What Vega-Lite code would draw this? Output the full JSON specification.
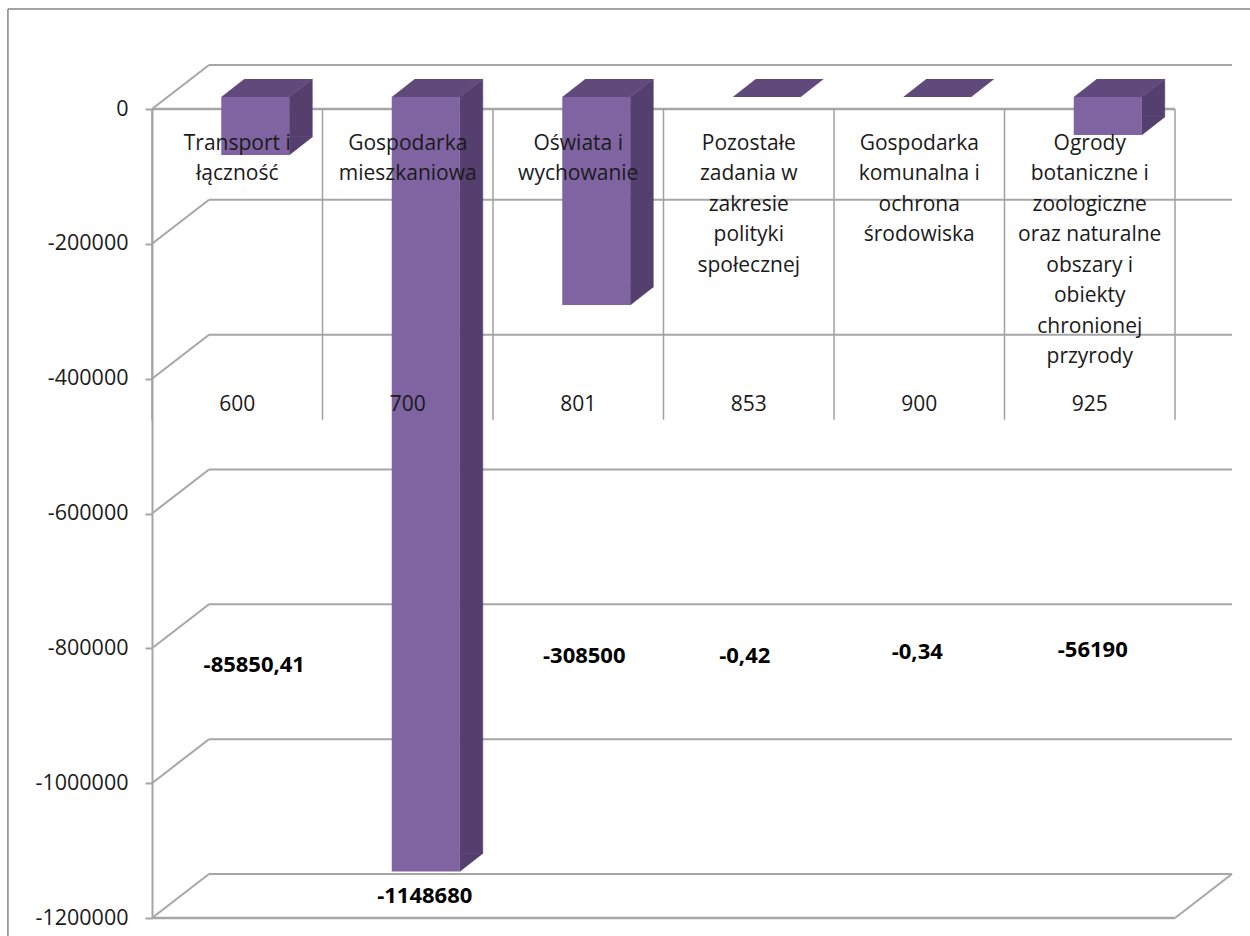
{"$schema":"https://vega.github.io/schema/vega-lite/v6.json","width":1250,"height":936,"padding":0,"autosize":{"type":"none"},"background":"white","view":{"stroke":null},
"config":{"text":{"font":"Open Sans","fontSize":21,"color":"#1a1a1a"}},
"datasets":{
"cats":[
{"code":"600","name":"Transport i\nłączność","value":-85850.41,"label":"-85850,41"},
{"code":"700","name":"Gospodarka\nmieszkaniowa","value":-1148680,"label":"-1148680"},
{"code":"801","name":"Oświata i\nwychowanie","value":-308500,"label":"-308500"},
{"code":"853","name":"Pozostałe\nzadania w\nzakresie\npolityki\nspołecznej","value":-0.42,"label":"-0,42"},
{"code":"900","name":"Gospodarka\nkomunalna i\nochrona\nśrodowiska","value":-0.34,"label":"-0,34"},
{"code":"925","name":"Ogrody\nbotaniczne i\nzoologiczne\noraz naturalne\nobszary i\nobiekty\nchronionej\nprzyrody","value":-56190,"label":"-56190"}],
"ticks":[{"tick":0},{"tick":-200000},{"tick":-400000},{"tick":-600000},{"tick":-800000},{"tick":-1000000},{"tick":-1200000}],
"edges":[{"edge":0},{"edge":1},{"edge":2},{"edge":3},{"edge":4},{"edge":5},{"edge":6}],
"front":[{"tick":0},{"tick":-1200000}]
},
"resolve":{"scale":{"x":"independent"},"axis":{"y":"independent"}},
"layer":[
{"data":{"name":"ticks"},"mark":{"type":"rule","color":"#a6a6a6","strokeWidth":2,"xOffset":57,"x2Offset":57,"yOffset":-44},
"encoding":{"x":{"datum":0,"type":"quantitative","axis":null,"scale":{"domain":[0,6],"range":[152,1175]}},"x2":{"datum":6},
"y":{"field":"tick","type":"quantitative","scale":{"domain":[-1200000,0],"range":[918,109]},
"axis":{"orient":"left","offset":-152,"values":[0,-200000,-400000,-600000,-800000,-1000000,-1200000],"format":"d","labelExpr":"replace(datum.label,'−','-')","title":null,"grid":false,"domainColor":"#a6a6a6","domainWidth":2,"tickColor":"#a6a6a6","tickWidth":2,"tickSize":7,"labelPadding":17,"labelFont":"Open Sans","labelFontSize":21.5,"labelColor":"#1a1a1a"}}}},
{"data":{"name":"ticks"},"mark":{"type":"rule","color":"#a6a6a6","strokeWidth":2,"x2Offset":57,"y2Offset":-44},
"encoding":{"x":{"datum":0,"type":"quantitative","axis":null,"scale":{"domain":[0,6],"range":[152,1175]}},"x2":{"datum":0},
"y":{"field":"tick","type":"quantitative","axis":null,"scale":{"domain":[-1200000,0],"range":[918,109]}},"y2":{"field":"tick"}}},
{"data":{"values":[{"tick":-1200000}]},"mark":{"type":"rule","color":"#a6a6a6","strokeWidth":2,"x2Offset":57,"y2Offset":-44},
"encoding":{"x":{"datum":6,"type":"quantitative","axis":null,"scale":{"domain":[0,6],"range":[152,1175]}},"x2":{"datum":6},
"y":{"field":"tick","type":"quantitative","axis":null,"scale":{"domain":[-1200000,0],"range":[918,109]}},"y2":{"field":"tick"}}},
{"data":{"name":"front"},"mark":{"type":"rule","color":"#a6a6a6","strokeWidth":2.5},
"encoding":{"x":{"datum":0,"type":"quantitative","axis":null,"scale":{"domain":[0,6],"range":[152,1175]}},"x2":{"datum":6},
"y":{"field":"tick","type":"quantitative","axis":null,"scale":{"domain":[-1200000,0],"range":[918,109]}}}},
{"data":{"name":"edges"},"mark":{"type":"rule","color":"#a0a0a0","strokeWidth":1.5},
"encoding":{"x":{"field":"edge","type":"quantitative","axis":null,"scale":{"domain":[0,6],"range":[152,1175]}},
"y":{"datum":0,"type":"quantitative","axis":null,"scale":{"domain":[-1200000,0],"range":[918,109]}},"y2":{"datum":-461000}}},
{"data":{"values":[{"a":-0.845,"b":6.5,"t":148300,"u":148300},{"a":-0.845,"b":-0.845,"t":148300,"u":-1230000}]},"mark":{"type":"rule","color":"#868686","strokeWidth":1.5},
"encoding":{"x":{"field":"a","type":"quantitative","axis":null,"scale":{"domain":[0,6],"range":[152,1175]}},"x2":{"field":"b"},
"y":{"field":"t","type":"quantitative","axis":null,"scale":{"domain":[-1200000,0],"range":[918,109]}},"y2":{"field":"u"}}},

{"data":{"name":"cats"},"transform":[{"filter":"datum.value < -1"}],"mark":{"type":"bar","size":23,"color":"#553f6e","stroke":"#553f6e","strokeWidth":0.6,"xOffset":63.5,"yOffset":-30,"y2Offset":-12},
"encoding":{"x":{"field":"code","type":"nominal","axis":null,"scale":{"domain":["600","700","801","853","900","925"],"range":[152,1175],"paddingInner":0,"paddingOuter":0}},
"y":{"field":"value","type":"quantitative","axis":null,"scale":{"domain":[-1200000,0],"range":[918,109]}},"y2":{"datum":0}}},
{"data":{"name":"cats"},"transform":[{"filter":"datum.value < -1"}],"mark":{"type":"point","filled":true,"opacity":1,"size":4,"color":"#553f6e","stroke":"#553f6e","strokeWidth":0.6,"shape":"M52,-12L75,-30L75,-12Z"},
"encoding":{"x":{"field":"code","type":"nominal","axis":null,"scale":{"domain":["600","700","801","853","900","925"],"range":[152,1175],"paddingInner":0,"paddingOuter":0}},
"y":{"datum":0,"type":"quantitative","axis":null,"scale":{"domain":[-1200000,0],"range":[918,109]}}}},
{"data":{"name":"cats"},"transform":[{"filter":"datum.value < -1"}],"mark":{"type":"point","filled":true,"opacity":1,"size":4,"color":"#553f6e","stroke":"#553f6e","strokeWidth":0.6,"shape":"M52,-12L52,-30L75,-30Z"},
"encoding":{"x":{"field":"code","type":"nominal","axis":null,"scale":{"domain":["600","700","801","853","900","925"],"range":[152,1175],"paddingInner":0,"paddingOuter":0}},
"y":{"field":"value","type":"quantitative","axis":null,"scale":{"domain":[-1200000,0],"range":[918,109]}}}},
{"data":{"name":"cats"},"mark":{"type":"point","filled":true,"opacity":1,"size":4,"color":"#604a7b","strokeWidth":0,"shape":"M-16,-12L52,-12L75,-30L7,-30Z"},
"encoding":{"x":{"field":"code","type":"nominal","axis":null,"scale":{"domain":["600","700","801","853","900","925"],"range":[152,1175],"paddingInner":0,"paddingOuter":0}},
"y":{"datum":0,"type":"quantitative","axis":null,"scale":{"domain":[-1200000,0],"range":[918,109]}}}},
{"data":{"name":"cats"},"mark":{"type":"bar","size":68,"color":"#8064a2","xOffset":18,"yOffset":-12,"y2Offset":-12},
"encoding":{"x":{"field":"code","type":"nominal","axis":null,"scale":{"domain":["600","700","801","853","900","925"],"range":[152,1175],"paddingInner":0,"paddingOuter":0}},
"y":{"field":"value","type":"quantitative","axis":null,"scale":{"domain":[-1200000,0],"range":[918,109]}},"y2":{"datum":0}}},

{"data":{"name":"cats"},"mark":{"type":"text","lineBreak":"\n","lineHeight":30.5,"align":"center","baseline":"top","dy":23.5},
"encoding":{"x":{"field":"code","type":"nominal","axis":null,"scale":{"domain":["600","700","801","853","900","925"],"range":[152,1175],"paddingInner":0,"paddingOuter":0}},
"y":{"datum":0,"type":"quantitative","axis":null,"scale":{"domain":[-1200000,0],"range":[918,109]}},"text":{"field":"name"}}},
{"data":{"name":"cats"},"mark":{"type":"text","align":"center","baseline":"middle","dy":296},
"encoding":{"x":{"field":"code","type":"nominal","axis":null,"scale":{"domain":["600","700","801","853","900","925"],"range":[152,1175],"paddingInner":0,"paddingOuter":0}},
"y":{"datum":0,"type":"quantitative","axis":null,"scale":{"domain":[-1200000,0],"range":[918,109]}},"text":{"field":"code"}}},

{"data":{"name":"cats"},"transform":[{"filter":"datum.code=='600'"}],"mark":{"type":"text","fontWeight":"bold","fontSize":22,"color":"#000000","align":"center","baseline":"middle","dx":17,"dy":17},
"encoding":{"x":{"field":"code","type":"nominal","axis":null,"scale":{"domain":["600","700","801","853","900","925"],"range":[152,1175],"paddingInner":0,"paddingOuter":0}},
"y":{"datum":-800000,"type":"quantitative","axis":null,"scale":{"domain":[-1200000,0],"range":[918,109]}},"text":{"field":"label"}}},
{"data":{"name":"cats"},"transform":[{"filter":"datum.code=='700'"}],"mark":{"type":"text","fontWeight":"bold","fontSize":22,"color":"#000000","align":"center","baseline":"middle","dx":17,"dy":13},
"encoding":{"x":{"field":"code","type":"nominal","axis":null,"scale":{"domain":["600","700","801","853","900","925"],"range":[152,1175],"paddingInner":0,"paddingOuter":0}},
"y":{"field":"value","type":"quantitative","axis":null,"scale":{"domain":[-1200000,0],"range":[918,109]}},"text":{"field":"label"}}},
{"data":{"name":"cats"},"transform":[{"filter":"datum.code=='801'"}],"mark":{"type":"text","fontWeight":"bold","fontSize":22,"color":"#000000","align":"center","baseline":"middle","dx":6,"dy":8},
"encoding":{"x":{"field":"code","type":"nominal","axis":null,"scale":{"domain":["600","700","801","853","900","925"],"range":[152,1175],"paddingInner":0,"paddingOuter":0}},
"y":{"datum":-800000,"type":"quantitative","axis":null,"scale":{"domain":[-1200000,0],"range":[918,109]}},"text":{"field":"label"}}},
{"data":{"name":"cats"},"transform":[{"filter":"datum.code=='853'"}],"mark":{"type":"text","fontWeight":"bold","fontSize":22,"color":"#000000","align":"center","baseline":"middle","dx":-4,"dy":8},
"encoding":{"x":{"field":"code","type":"nominal","axis":null,"scale":{"domain":["600","700","801","853","900","925"],"range":[152,1175],"paddingInner":0,"paddingOuter":0}},
"y":{"datum":-800000,"type":"quantitative","axis":null,"scale":{"domain":[-1200000,0],"range":[918,109]}},"text":{"field":"label"}}},
{"data":{"name":"cats"},"transform":[{"filter":"datum.code=='900'"}],"mark":{"type":"text","fontWeight":"bold","fontSize":22,"color":"#000000","align":"center","baseline":"middle","dx":-2,"dy":4},
"encoding":{"x":{"field":"code","type":"nominal","axis":null,"scale":{"domain":["600","700","801","853","900","925"],"range":[152,1175],"paddingInner":0,"paddingOuter":0}},
"y":{"datum":-800000,"type":"quantitative","axis":null,"scale":{"domain":[-1200000,0],"range":[918,109]}},"text":{"field":"label"}}},
{"data":{"name":"cats"},"transform":[{"filter":"datum.code=='925'"}],"mark":{"type":"text","fontWeight":"bold","fontSize":22,"color":"#000000","align":"center","baseline":"middle","dx":3,"dy":2},
"encoding":{"x":{"field":"code","type":"nominal","axis":null,"scale":{"domain":["600","700","801","853","900","925"],"range":[152,1175],"paddingInner":0,"paddingOuter":0}},
"y":{"datum":-800000,"type":"quantitative","axis":null,"scale":{"domain":[-1200000,0],"range":[918,109]}},"text":{"field":"label"}}}
]}
